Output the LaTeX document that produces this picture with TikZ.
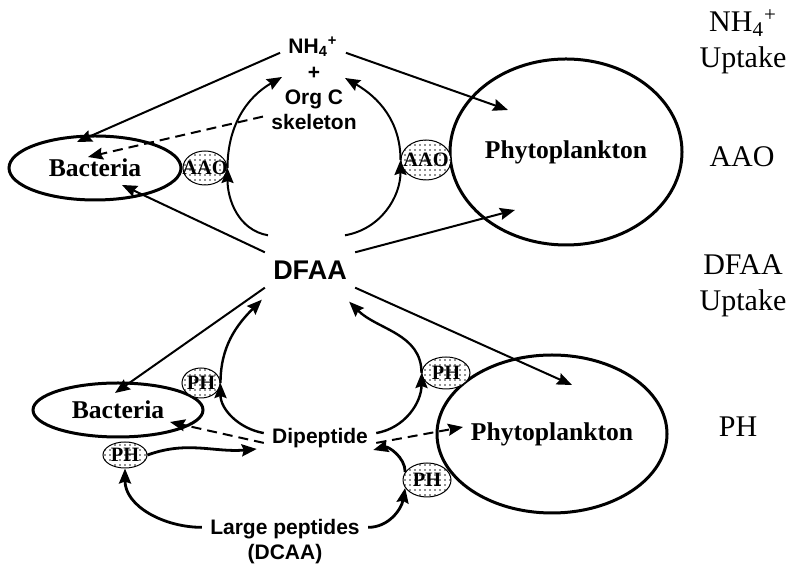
\documentclass[tikz,border=0pt]{standalone}
\usepackage{fontspec}
\setmainfont{Liberation Serif}
\setsansfont{Liberation Sans}
\usepackage{tikz}
\usetikzlibrary{
    arrows.meta,
    shapes.geometric,
    patterns.meta
}
\newcommand{\cellfont}{\fontsize{12.8pt}{15pt}\selectfont\bfseries}
\newcommand{\poolfont}{\fontsize{10.5pt}{12.5pt}\selectfont\sffamily\bfseries}
\newcommand{\bigpoolfont}{\fontsize{13.5pt}{16pt}\selectfont\sffamily\bfseries}
\newcommand{\enzfont}{\fontsize{10.2pt}{11pt}\selectfont\bfseries}
\newcommand{\stepfont}{\fontsize{15pt}{18pt}\selectfont}
\tikzset
{
  cell/.style={draw,ellipse,line width=1.5pt,inner sep=0pt,font=\cellfont},
  enzyme/.style={draw,ellipse,line width=0.5pt,inner sep=0pt,preaction={fill=white},pattern={Dots[distance=2.5pt,radius=0.4pt]},pattern color=black!85,font=\enzfont},
  pool/.style={inner sep=4pt,align=center,font=\poolfont},
  process/.style={align=center,font=\stepfont},
  flow/.style={line width=1pt,-{Stealth[length=7.5pt,width=6pt,inset=1pt]}},
  loss/.style={flow,dash pattern=on 5pt off 3pt}
}

\begin{document}
\begin{tikzpicture}[x=0.5pt,y=-0.5pt]

    \useasboundingbox (0,0) rectangle (792,565);

    % Draw the cells
    \node[cell, minimum width=86pt, minimum height=32pt] (bacA) at (95,168) {Bacteria\hspace{11pt}};
    \node[cell, minimum width=116pt, minimum height=93pt] (phyA) at (566,152) {Phytoplankton};
    \node[cell, minimum width=85pt, minimum height=27pt] (bacB) at (118,410) {Bacteria\hspace{11pt}};
    \node[cell, minimum width=115pt, minimum height=79pt] (phyB) at (552,434) {Phytoplankton};

    % Draw the enzymes (AAO = amino acid oxidase, PH = peptide hydrolysis)
    \node[enzyme, minimum width=22pt, minimum height=17pt] (aaoL) at (205,168) {\makebox[0pt]{AAO}};
    \node[enzyme, minimum width=25pt, minimum height=20pt] (aaoR) at (426,160) {\makebox[0pt]{AAO}};
    \node[enzyme, minimum width=19pt, minimum height=15pt] (phL1) at (201,383) {\makebox[0pt]{PH}};
    \node[enzyme, minimum width=22pt, minimum height=13pt] (phL2) at (125,455) {\makebox[0pt]{PH}};
    \node[enzyme, minimum width=24pt, minimum height=16pt] (phR1) at (446,373) {\makebox[0pt]{PH}};
    \node[enzyme, minimum width=24pt, minimum height=17pt] (phR2) at (427,480) {\makebox[0pt]{PH}};

    % Draw the pools
    \node[pool] (nh) at (313,47) {NH\textsubscript{4}\textsuperscript{+}};
    \node[pool] (org) at (314,98) {+\\Org C\\skeleton};
    \node[pool, font=\bigpoolfont] (dfaa) at (310,270) {DFAA};
    \node[pool] (dip) at (320,438) {Dipeptide};
    \node[pool] (large) at (285,542) {Large peptides\\(DCAA)};

    % Draw the NH4+ uptake
    \draw[flow] (nh.-10) -- ([shift={(-58,-42)}]phyA.center);
    \draw[flow] (nh.190) -- ([shift={(-18,-26)}]bacA.center);
    \draw[loss] (org.200) -- ([shift={(-7,-11)}]bacA.center);

    % Draw the DFAA uptake
    \draw[flow] (dfaa.north west) -- ([shift={(27,17)}]bacA.center);
    \draw[flow] (dfaa.north east) -- ([shift={(-51,58)}]phyA.center);
    \draw[flow] (dfaa.south west) -- ([shift={(-3,-17)}]bacB.center);
    \draw[flow] (dfaa.south east) -- ([shift={(20,-49)}]phyB.center);

    % Draw the AAO loops
    \draw[flow] ([shift={(-42,-17)}]dfaa.north) to[out=170, in=-90] (aaoL.east);
    \draw[flow] (aaoL.east) to[out=90, in=210] ([shift={(-32,-21)}]org.center);
    \draw[flow] ([shift={(35,-17)}]dfaa.north) to[out=10, in=-90] (aaoR.west);
    \draw[flow] (aaoR.west) to[out=90, in=-30] ([shift={(31,-20)}]org.center);

    % Draw the dipeptide hydrolysis
    \draw[flow, line width=1.2pt] (dip.175) to[out=170, in=-90] (phL1.east);
    \draw[flow, line width=1.2pt] (phL1.east) to[out=90, in=225] ([shift={(-3,12)}]dfaa.south west);
    \draw[flow, line width=1.2pt] (dip.5) to[out=10, in=-90] (phR1.west);
    \draw[flow, line width=1.2pt] (phR1.west) to[out=90, in=-45] ([shift={(-6,14)}]dfaa.south east);

    % Draw the large peptide hydrolysis
    \draw[flow, line width=1.4pt] (large.170) to[out=180, in=-90] (phL2.south);
    \draw[flow, line width=1.4pt] (phL2.east) to[out=20, in=185] ([shift={(-7,11)}]dip.west);
    \draw[flow, line width=1.4pt] (large.10) to[out=0, in=-100] (phR2.200);
    \draw[flow, line width=1.4pt] (phR2.160) to[out=90, in=15] ([shift={(-3,12)}]dip.east);

    % Draw the dipeptide uptake
    \draw[loss] (dip.185) -- ([shift={(52,12)}]bacB.center);
    \draw[loss] (dip.-5) -- ([shift={(-89,-7)}]phyB.center);

    % Draw the process labels
    \node[process] (labNH) at (743,42) {NH\textsubscript{4}\textsuperscript{+}\\Uptake};
    \node[process] (labAAO) at (742,157) {AAO};
    \node[process] (labDFAA) at (743,286) {DFAA\\Uptake};
    \node[process] (labPH) at (738,427) {PH};

\end{tikzpicture}
\end{document}
